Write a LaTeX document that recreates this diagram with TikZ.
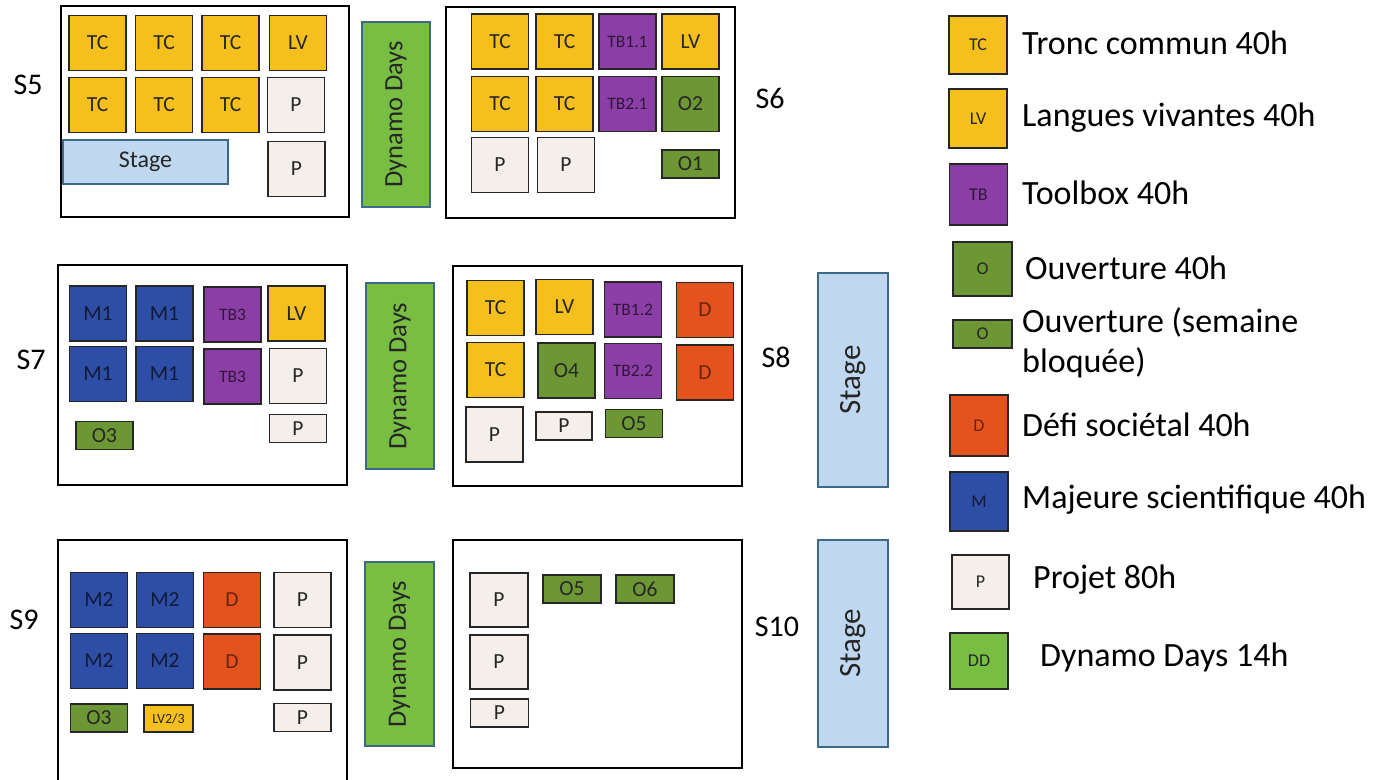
\documentclass[tikz,border=0pt]{standalone}
\usepackage{fontspec}
\setmainfont{Carlito}
\usepackage{xcolor}
\usepackage{tikz}
\definecolor{tcyellow}{HTML}{F5BF1E}
\definecolor{tbpurple}{HTML}{8B3FA6}
\definecolor{ogreen}{HTML}{6D9734}
\definecolor{dred}{HTML}{E4521E}
\definecolor{mblue}{HTML}{2E4DA5}
\definecolor{pcream}{HTML}{F4EFEA}
\definecolor{ddgreen}{HTML}{78BE43}
\definecolor{stblue}{HTML}{BFD8F0}
\definecolor{edgeblue}{HTML}{3D6A86}

\begin{document}
\begin{tikzpicture}[x=1pt, y=-1pt,
    cell/.style={draw=black!85, line width=1.3pt, rectangle, inner sep=0pt, minimum width=57pt, minimum height=55pt, text=black!85, font=\fontsize{21.5}{21.5}\selectfont},
    slim/.style={minimum height=28pt},
    small/.style={font=\fontsize{17.5}{17.5}\selectfont},
    tcbox/.style={cell, fill=tcyellow},
    tbbox/.style={cell, fill=tbpurple, text=tbpurple!35!black, small},
    obox/.style={cell, fill=ogreen},
    dbox/.style={cell, fill=dred, text=dred!45!black},
    mbox/.style={cell, fill=mblue, text=mblue!35!black},
    pbox/.style={cell, fill=pcream},
    legbox/.style={font=\fontsize{18}{18}\selectfont},
    panel/.style={draw=black, line width=2.4pt, rectangle, inner sep=0pt},
    dynamo/.style={draw=edgeblue, line width=1.6pt, fill=ddgreen, rotate=90, inner sep=0pt, minimum width=185pt, minimum height=68pt, text=black!85, font=\fontsize{26.5}{26.5}\selectfont},
    stagebox/.style={draw=edgeblue, line width=1.6pt, fill=stblue, inner sep=0pt, text=black!85, font=\fontsize{24}{24}\selectfont},
    upright/.style={rotate=90, font=\fontsize{31}{31}\selectfont},
    sem/.style={font=\fontsize{30}{30}\selectfont},
    legtext/.style={anchor=west, align=left, inner sep=0pt, font=\fontsize{34}{40}\selectfont}]
        \useasboundingbox (0,0) rectangle (1386,779);
        \clip (0,0) rectangle (1386,779);

        % S5
        \node[panel, minimum width=288pt, minimum height=211pt] (s5) at (205,111.5) {};
        \node[sem] (s5lab) at (28,85) {S5};
        \node[tcbox] (s5a) at (97.5,43) {TC};
        \node[tcbox] (s5b) at (164,43) {TC};
        \node[tcbox] (s5c) at (230.5,43) {TC};
        \node[tcbox] (s5d) at (298,43) {LV};
        \node[tcbox] (s5e) at (97.5,105) {TC};
        \node[tcbox] (s5f) at (164,105) {TC};
        \node[tcbox] (s5g) at (230.5,105) {TC};
        \node[pbox] (s5h) at (296,105) {P};
        \node[stagebox, minimum width=165pt, minimum height=44pt] (s5stage) at (145.5,162) {Stage};
        \node[pbox] (s5i) at (296.5,169) {P};
        \node[dynamo] (dd1) at (396,114.5) {Dynamo Days};

        % S6
        \node[panel, minimum width=289pt, minimum height=211pt] (s6) at (590.5,112.5) {};
        \node[sem] (s6lab) at (770,98) {S6};
        \node[tcbox] (s6a) at (500,41.5) {TC};
        \node[tcbox] (s6b) at (564.5,41.5) {TC};
        \node[tbbox] (s6c) at (627.5,41.5) {TB1.1};
        \node[tcbox] (s6d) at (690.5,41.5) {LV};
        \node[tcbox] (s6e) at (500,104) {TC};
        \node[tcbox] (s6f) at (564.5,104) {TC};
        \node[tbbox] (s6g) at (627.5,104) {TB2.1};
        \node[obox] (s6h) at (690.5,104) {O2};
        \node[pbox] (s6i) at (500,165) {P};
        \node[pbox] (s6j) at (566,165) {P};
        \node[obox, slim] (s6k) at (690.5,164) {O1};

        % S7
        \node[panel, minimum width=289pt, minimum height=220pt] (s7) at (202.5,375) {};
        \node[sem] (s7lab) at (31,360) {S7};
        \node[mbox] (s7a) at (98,313.5) {M1};
        \node[mbox] (s7b) at (164.5,313.5) {M1};
        \node[tbbox] (s7c) at (232.5,314.5) {TB3};
        \node[tcbox] (s7d) at (296.5,313.5) {LV};
        \node[mbox] (s7e) at (98,374) {M1};
        \node[mbox] (s7f) at (164.5,374) {M1};
        \node[tbbox] (s7g) at (232.5,376.5) {TB3};
        \node[pbox] (s7h) at (298,376) {P};
        \node[obox, slim] (s7i) at (104.5,435.5) {O3};
        \node[pbox, slim] (s7j) at (298,428.5) {P};
        \node[dynamo, minimum width=186pt] (dd2) at (400,376) {Dynamo Days};

        % S8
        \node[panel, minimum width=289pt, minimum height=220pt] (s8) at (597.5,376) {};
        \node[sem] (s8lab) at (776,357) {S8};
        \node[tcbox] (s8a) at (495.5,308) {TC};
        \node[tcbox] (s8b) at (564.5,307) {LV};
        \node[tbbox] (s8c) at (633,309.5) {TB1.2};
        \node[dbox] (s8d) at (705,310) {D};
        \node[tcbox] (s8e) at (495.5,370) {TC};
        \node[obox] (s8f) at (566.5,370.5) {O4};
        \node[tbbox] (s8g) at (633,371) {TB2.2};
        \node[dbox] (s8h) at (705,372.5) {D};
        \node[pbox] (s8i) at (494.5,434.5) {P};
        \node[pbox, slim, minimum width=56pt] (s8j) at (564,426) {P};
        \node[obox, slim] (s8k) at (634,423.5) {O5};
        \node[stagebox, upright, minimum width=214pt, minimum height=70pt] (st8) at (853,380) {Stage};

        % S9
        \node[panel, minimum width=289pt, minimum height=280pt] (s9) at (202.5,680) {};
        \node[sem] (s9lab) at (24,620) {S9};
        \node[mbox] (s9a) at (99,600) {M2};
        \node[mbox] (s9b) at (165,600) {M2};
        \node[dbox] (s9c) at (232,600) {D};
        \node[pbox] (s9d) at (302.5,600) {P};
        \node[mbox] (s9e) at (99,661) {M2};
        \node[mbox] (s9f) at (165,661) {M2};
        \node[dbox] (s9g) at (232,661.5) {D};
        \node[pbox] (s9h) at (302.5,662.5) {P};
        \node[obox, slim] (s9i) at (99,718) {O3};
        \node[tcbox, slim, minimum width=49pt, minimum height=27pt, font=\fontsize{14}{14}\selectfont] (s9j) at (168.5,718.5) {LV2/3};
        \node[pbox, slim] (s9k) at (302.5,717.5) {P};
        \node[dynamo, minimum width=184pt, minimum height=69pt] (dd3) at (399.5,654) {Dynamo Days};

        % S10
        \node[panel, minimum width=289pt, minimum height=228pt] (s10) at (597.5,654) {};
        \node[sem] (s10lab) at (777,627) {S10};
        \node[pbox, minimum width=58pt, minimum height=54pt] (s10a) at (499,600) {P};
        \node[obox, slim, minimum width=58pt] (s10b) at (572,589) {O5};
        \node[obox, slim, minimum width=58pt] (s10c) at (645,589) {O6};
        \node[pbox, minimum width=58pt, minimum height=54pt] (s10d) at (499,662) {P};
        \node[pbox, slim, minimum width=58pt] (s10e) at (499.5,713) {P};
        \node[stagebox, upright, minimum width=207pt, minimum height=70pt] (st10) at (853,643.5) {Stage};

        % Legend
        \node[tcbox, legbox, minimum width=58pt, minimum height=58pt] (ktc) at (978,45) {TC};
        \node[legtext] (ttc) at (1022,43) {Tronc commun 40h};
        \node[tcbox, legbox, minimum width=58pt, minimum height=59pt] (klv) at (978,118.5) {LV};
        \node[legtext] (tlv) at (1022,118) {Langues vivantes 40h};
        \node[tbbox, legbox, minimum width=58pt, minimum height=61pt] (ktb) at (978.5,194.5) {TB};
        \node[legtext] (ttb) at (1022,193) {Toolbox 40h};
        \node[obox, legbox, minimum width=59pt, minimum height=54pt] (ko) at (982.5,269) {O};
        \node[legtext] (to) at (1025,268) {Ouverture 40h};
        \node[obox, legbox, slim, minimum width=59pt] (kos) at (982.5,334) {O};
        \node[legtext] (tos) at (1022,343) {Ouverture (semaine\\bloquée)};
        \node[dbox, legbox, minimum width=58pt, minimum height=61pt] (kd) at (979,425.5) {D};
        \node[legtext] (td) at (1022,425) {Défi sociétal 40h};
        \node[mbox, legbox, minimum width=58pt, minimum height=59pt] (km) at (979,501.5) {M};
        \node[legtext] (tm) at (1022,500) {Majeure scientifique 40h};
        \node[pbox, legbox, minimum width=57pt, minimum height=54pt] (kp) at (980.5,582) {P};
        \node[legtext] (tp) at (1033,580) {Projet 80h};
        \node[cell, fill=ddgreen, legbox, minimum width=58pt, minimum height=56pt] (kdd) at (979,661) {DD};
        \node[legtext] (tdd) at (1040,657) {Dynamo Days 14h};
    \end{tikzpicture}
\end{document}
